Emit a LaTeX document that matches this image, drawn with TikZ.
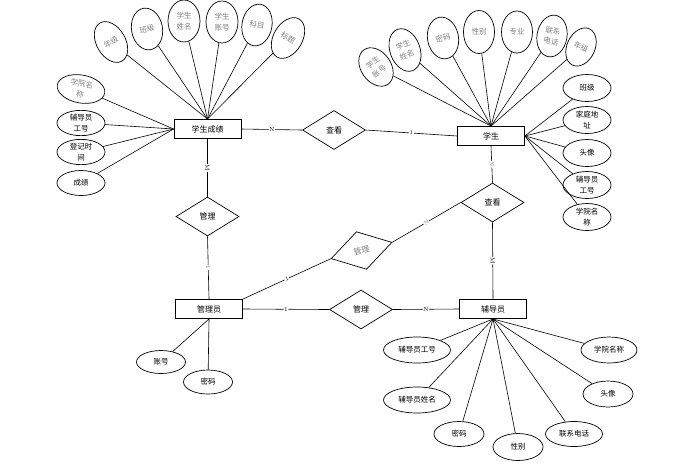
\documentclass[tikz,border=0pt]{standalone}
\usepackage{fontspec}
\newfontfamily\cjk{Noto Sans CJK SC}
\usetikzlibrary{shapes.geometric}
\begin{document}
\begin{tikzpicture}[x=1pt,y=-1pt,line width=0.6pt,
	ent/.style={draw,line width=0.9pt,rectangle,minimum width=67pt,minimum height=19pt,inner sep=0pt,font=\cjk\fontsize{8}{10}\selectfont},
	rel/.style={draw,line width=0.7pt,diamond,minimum width=63pt,minimum height=39pt,inner sep=0pt,font=\cjk\fontsize{8}{10}\selectfont},
	attr/.style={draw,line width=0.7pt,ellipse,inner sep=0pt,align=center,font=\cjk\fontsize{7.5}{11}\selectfont},
	card/.style={fill=white,inner sep=0.5pt,font=\fontsize{6}{7}\selectfont,sloped}]
	\useasboundingbox (0,0) rectangle (687,467);
	\node [ent] (cj) at (207.5,129) {学生成绩};
	\node [ent] (xs) at (491,136) {学生};
	\node [ent] (gly) at (209,309) {管理员};
	\node [ent] (fdy) at (493,309) {辅导员};
	\node [rel] (ck1) at (334,130) {查看};
	\node [rel] (gl1) at (207.5,216.5) {管理};
	\node [rel] (ck2) at (492.5,202.5) {查看};
	\node [rel,rotate=15,text=gray] (gl2) at (361.5,250.5) {管理};
	\node [rel] (gl3) at (361,309.5) {管理};
	\draw (cj.east) -- node [card]{N} (ck1.west);
	\draw (ck1.east) -- node [card]{1} (xs.west);
	\draw (cj.south) -- node [card]{M} (gl1.north);
	\draw (gl1.south) -- node [card,text=gray]{1} (gly.north);
	\draw (xs.south) -- node [card,text=gray]{N} (ck2.north);
	\draw (ck2.south) -- node [card]{M} (fdy.north);
	\draw (ck2.west) -- node [card,text=gray]{N} (gl2.east);
	\draw (gl2.west) -- node [card]{1} (gly.north east);
	\draw (gly.east) -- node [card]{1} (gl3.west);
	\draw (gl3.east) -- node [card]{N} (fdy.west);
	\node [attr,text=gray,minimum width=29pt,minimum height=44pt,rotate=30] (a1) at (111,42) {年级};
	\node [attr,text=gray,minimum width=31pt,minimum height=42pt,rotate=10] (a2) at (147,29) {班级};
	\node [attr,text=gray,minimum width=32pt,minimum height=42pt] (a3) at (184,21) {学生\\姓名};
	\node [attr,text=gray,minimum width=32pt,minimum height=42pt] (a4) at (222,22) {学生\\账号};
	\node [attr,text=gray,minimum width=30pt,minimum height=42pt,rotate=-10] (a5) at (257,25) {科目};
	\node [attr,text=gray,minimum width=29pt,minimum height=44pt,rotate=-30] (a6) at (288,38) {标题};
	\node [attr,text=gray,minimum width=48pt,minimum height=28pt,rotate=-10] (b1) at (81,89) {学院名\\称};
	\node [attr,minimum width=48pt,minimum height=25pt] (b2) at (81,123) {辅导员\\工号};
	\node [attr,minimum width=48pt,minimum height=23pt] (b3) at (81,152) {登记时\\间};
	\node [attr,minimum width=48pt,minimum height=25pt] (b4) at (81,183) {成绩};
	\foreach \n in {a1,a2,a3,a4,a5,a6}
		\draw (\n) -- (cj.north);
	\foreach \n in {b1,b2,b3,b4}
		\draw (\n) -- (cj.west);
	\node [attr,text=gray,minimum width=30pt,minimum height=42pt,rotate=35] (c1) at (376,67) {学生\\账号};
	\node [attr,text=gray,minimum width=30pt,minimum height=44pt,rotate=20] (c2) at (405,50) {学生\\姓名};
	\node [attr,text=gray,minimum width=31pt,minimum height=42pt,rotate=10] (c3) at (443,38) {密码};
	\node [attr,text=gray,minimum width=31pt,minimum height=43pt] (c4) at (479,32) {性别};
	\node [attr,text=gray,minimum width=31pt,minimum height=42pt] (c5) at (517,32) {专业};
	\node [attr,text=gray,minimum width=30pt,minimum height=42pt,rotate=-10] (c6) at (552,36) {联系\\电话};
	\node [attr,text=gray,minimum width=28pt,minimum height=40pt,rotate=-25] (c7) at (581,47) {年级};
	\node [attr,minimum width=48pt,minimum height=27pt] (d1) at (587,88) {班级};
	\node [attr,minimum width=48pt,minimum height=27pt] (d2) at (587,120) {家庭地\\址};
	\node [attr,minimum width=48pt,minimum height=27pt] (d3) at (587,153) {头像};
	\node [attr,minimum width=48pt,minimum height=27pt] (d4) at (587,185) {辅导员\\工号};
	\node [attr,minimum width=48pt,minimum height=27pt] (d5) at (587,217) {学院名\\称};
	\foreach \n in {c1,c2,c3,c4,c5,c6,c7}
		\draw (\n) -- (xs.north);
	\foreach \n in {d1,d2,d3,d4,d5}
		\draw (\n) -- (xs.east);
	\node [attr,minimum width=67pt,minimum height=26pt] (e1) at (417,350) {辅导员工号};
	\node [attr,minimum width=67pt,minimum height=26pt] (e2) at (417,400) {辅导员姓名};
	\node [attr,minimum width=50pt,minimum height=25pt] (e3) at (459,434) {密码};
	\node [attr,minimum width=50pt,minimum height=27pt] (e4) at (518,447) {性别};
	\node [attr,minimum width=57pt,minimum height=25pt] (e5) at (574,434) {联系电话};
	\node [attr,minimum width=50pt,minimum height=26pt] (e6) at (608,394) {头像};
	\node [attr,minimum width=56pt,minimum height=26pt] (e7) at (609,350) {学院名称};
	\foreach \n in {e1,e2,e3,e4,e5,e6,e7}
		\draw (\n) -- (fdy.south);
	\node [attr,minimum width=49pt,minimum height=23pt] (f1) at (161,362) {账号};
	\node [attr,minimum width=49pt,minimum height=24pt] (f2) at (208,382) {密码};
	\draw (f1) -- (gly.south);
	\draw (f2) -- (gly.south);
\end{tikzpicture}
\end{document}
